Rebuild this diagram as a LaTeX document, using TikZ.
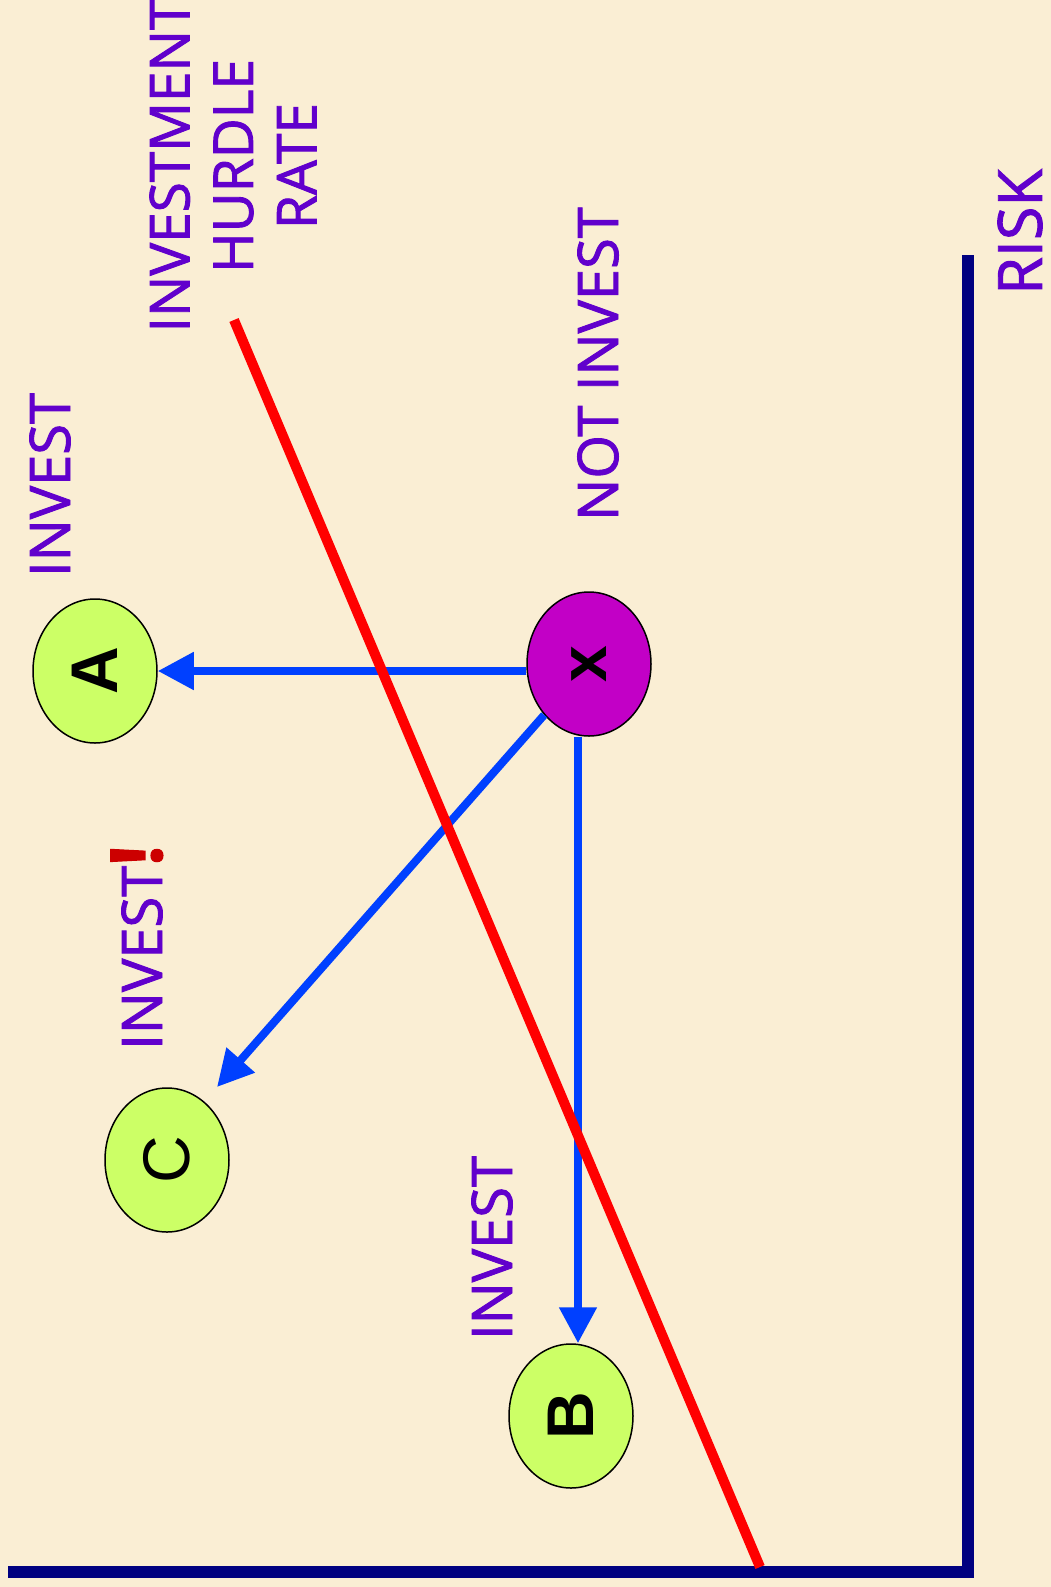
\documentclass[tikz,border=0pt]{standalone}
\usepackage{fontspec}
\setmainfont{Open Sans}
\newfontfamily\labelfont{Open Sans}[FakeBold=1.6]
\newfontfamily\letterfont{Liberation Sans}
\usetikzlibrary{shapes.geometric,arrows.meta}
\definecolor{paper}{HTML}{FAEED4}
\definecolor{labelpurple}{HTML}{6100CC}
\definecolor{arrowblue}{HTML}{0040FF}
\definecolor{axisnavy}{HTML}{000080}
\definecolor{hurdlered}{HTML}{FF0000}
\definecolor{bangred}{HTML}{CC0000}
\definecolor{optiongreen}{HTML}{CCFF66}
\definecolor{currentpurple}{HTML}{C200C6}
\begin{document}
\begin{tikzpicture}[x=1pt,y=-1pt,
  lbl/.style={text=labelpurple, rotate=90, inner sep=0pt,
    font=\labelfont\fontsize{56}{63.5}\selectfont},
  option/.style={ellipse, draw=black, line width=1.5pt, fill=optiongreen,
    minimum width=124pt, minimum height=144pt, inner sep=0pt,
    font=\letterfont\fontsize{66}{66}\selectfont},
  move/.style={draw=arrowblue, line width=8pt,
    -{Triangle[length=36pt,width=36pt]}},
  axis/.style={draw=axisnavy, line width=12pt},
  hurdle/.style={draw=hurdlered, line width=10pt}
]
% paper background and page frame
\fill[paper] (0,0) rectangle (1051,1587);
\useasboundingbox (0,0) rectangle (1051,1587);

% axes
\coordinate (riskTop) at (968,255);
\coordinate (origin) at (968,1571.5);
\coordinate (axisEnd) at (8,1571.5);
\draw[axis] (riskTop) -- (origin) -- (axisEnd);

% investment options and the current position
\node[option] (A) at (95,671) {\bfseries\rotatebox{90}{A}};
\node[option, fill=currentpurple] (X) at (589,664) {\bfseries\rotatebox{90}{x}};
\node[option] (C) at (167,1160) {\rotatebox{90}{C}};
\node[option] (B) at (571,1416) {\bfseries\rotatebox{90}{B}};

% moves from the current position
\draw[move] (X.west |- A.east) -- (A.east);
\coordinate (Btop) at ([xshift=7pt]B.north);
\draw[move] (X.south -| Btop) -- (Btop);
\coordinate (Ctip) at ([shift={(50,-73)}]C.center);
\draw[move] (X) -- (Ctip);

% hurdle rate line
\coordinate (hurdleTop) at (234,320);
\coordinate (hurdleFoot) at (760,1567);
\draw[hurdle] (hurdleTop) -- (hurdleFoot);

% labels
\node[lbl, align=center, font=\labelfont\fontsize{55}{63.5}\selectfont]
  (hurdleLbl) at (233,166) {INVESTMENT\\HURDLE\\RATE};
\node[lbl] (investA) at (50,485) {INVEST};
\node[lbl] (notInvest) at (598,364) {NOT INVEST};
\node[lbl, anchor=base west] (investC) at (162,1050)
  {INVEST{\color{bangred}\fontsize{72}{72}\selectfont\bfseries !}};
\node[lbl] (investB) at (492,1248) {INVEST};
\node[lbl, font=\labelfont\fontsize{61}{61}\selectfont] (risk) at (1020,232) {RISK};
\end{tikzpicture}
\end{document}
